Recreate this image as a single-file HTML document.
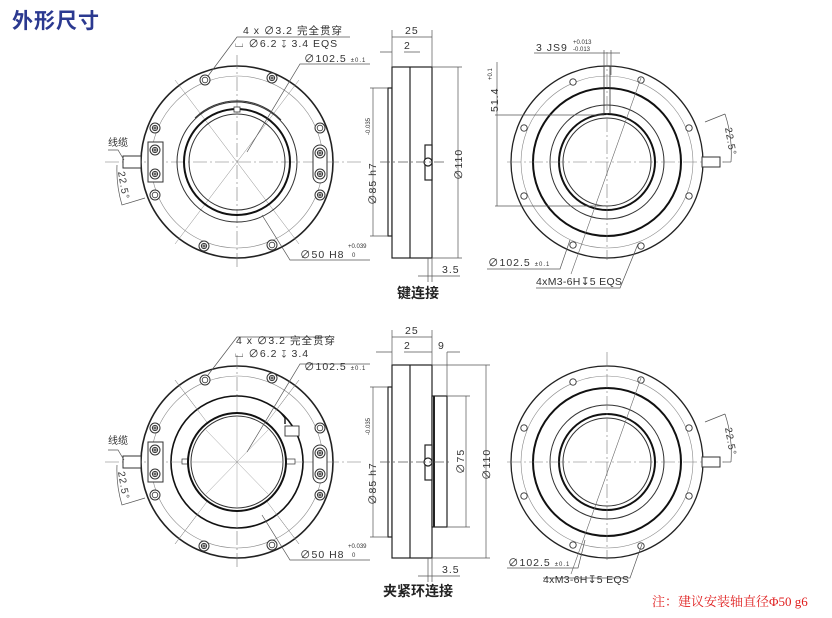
<!DOCTYPE html>
<html><head><meta charset="utf-8"><style>
html,body{margin:0;padding:0;background:#fff;width:832px;height:618px;overflow:hidden}
svg{display:block}
text{font-family:"Liberation Sans","Noto Sans CJK SC",sans-serif;fill:#333}
.t{font-size:10.5px;letter-spacing:1px}
.s{font-size:6px}
</style></head><body>
<svg width="832" height="618" viewBox="0 0 832 618" xmlns="http://www.w3.org/2000/svg">
<defs>
<g id="screw"><circle r="5" fill="#fff" stroke="#333" stroke-width="1"/><circle r="2.6" fill="none" stroke="#333" stroke-width="1"/><path d="M-1.8 0H1.8M0 -1.8V1.8" stroke="#333" stroke-width="1"/></g>
<g id="hole"><circle r="5" fill="#fff" stroke="#333" stroke-width="1"/><circle r="2.8" fill="none" stroke="#333" stroke-width="0.8"/></g>
<g id="sh"><circle r="3.2" fill="#fff" stroke="#333" stroke-width="0.9"/></g>
<g id="frontL">
  <circle r="96" fill="none" stroke="#222" stroke-width="1.6"/>
  <circle r="86" fill="none" stroke="#888" stroke-width="0.6"/>
  <path d="M-132 0H125M0 -107V108" stroke="#777" stroke-width="0.6" stroke-dasharray="14 3 2 3"/>
  <path d="M-62 -82L62 82M-62 82L62 -82" stroke="#888" stroke-width="0.5"/>
  <use href="#hole" x="-32" y="-82"/><use href="#screw" x="35" y="-84"/>
  <use href="#screw" x="-82" y="-34"/><use href="#hole" x="83" y="-34"/>
  <use href="#hole" x="-82" y="33"/><use href="#screw" x="83" y="33"/>
  <use href="#screw" x="-33" y="84"/><use href="#hole" x="35" y="83"/>
  <rect x="-89" y="-20" width="15" height="40" fill="#fff" stroke="#333" stroke-width="1"/>
  <use href="#screw" x="-82" y="-12"/><use href="#screw" x="-82" y="12"/>
  <rect x="76" y="-17" width="14" height="38" rx="7" fill="#fff" stroke="#333" stroke-width="1"/>
  <use href="#screw" x="83" y="-9"/><use href="#screw" x="83" y="12"/>
  <rect x="-114" y="-6" width="18" height="12" fill="#fff" stroke="#333" stroke-width="1"/>
</g>
<g id="frontR">
  <circle r="96" fill="none" stroke="#222" stroke-width="1.3"/>
  <circle r="86" fill="none" stroke="#888" stroke-width="0.6"/>
  <circle r="74" fill="none" stroke="#111" stroke-width="2"/>
  <circle r="57" fill="none" stroke="#333" stroke-width="1"/>
  <circle r="48" fill="none" stroke="#111" stroke-width="2"/>
  <circle r="44" fill="none" stroke="#333" stroke-width="1"/>
  <path d="M-100 0H118M0 -110V98" stroke="#777" stroke-width="0.6" stroke-dasharray="14 3 2 3"/>
  <use href="#sh" x="-34" y="-80"/><use href="#sh" x="34" y="-82"/>
  <use href="#sh" x="-83" y="-34"/><use href="#sh" x="82" y="-34"/>
  <use href="#sh" x="-83" y="34"/><use href="#sh" x="82" y="34"/>
  <use href="#sh" x="-34" y="83"/><use href="#sh" x="34" y="84"/>
  <rect x="95" y="-5" width="18" height="10" fill="#fff" stroke="#333" stroke-width="1"/>
  <path d="M-36 112L34 -84" stroke="#666" stroke-width="0.6"/>
  <path d="M98 -40L118 -48M118 -48A125 125 0 0 1 124 0" fill="none" stroke="#555" stroke-width="0.7"/>
  <path d="M116 0H124" stroke="#555" stroke-width="0.7"/>
</g>
</defs>

<text x="12" y="28" style="font-size:21px;font-weight:bold;fill:#2b3990;letter-spacing:1px">外形尺寸</text>

<!-- TOP LEFT -->
<g transform="translate(237,162)">
  <use href="#frontL"/>
  <circle r="60" fill="none" stroke="#333" stroke-width="1"/>
  <path d="M-42 -44A60 60 0 0 1 44 -42" fill="none" stroke="#333" stroke-width="1"/>
  <circle r="53" fill="none" stroke="#111" stroke-width="2"/>
  <circle r="48" fill="none" stroke="#333" stroke-width="1"/>
  <rect x="-3" y="-55" width="6" height="5" fill="#fff" stroke="#333" stroke-width="0.8"/>
</g>
<g stroke="#555" stroke-width="0.7" fill="none">
  <path d="M350 37H237L208 76"/><path d="M370 64H300L247 152"/><path d="M370 260H290L262 215"/>
  <path d="M108 150H118L124 160"/>
  <path d="M117 165A120 120 0 0 0 122 205L145 198"/>
</g>
<text x="243" y="34" class="t">4 x ∅3.2 完全贯穿</text>
<text x="235" y="47" class="t">⌴ ∅6.2 ↧ 3.4 EQS</text>
<text x="304" y="62" class="t">∅102.5 <tspan class="s">±0.1</tspan></text>
<text x="300" y="258" class="t">∅50 H8</text>
<text x="348" y="248" class="s">+0.039</text><text x="352" y="257" class="s">0</text>
<text x="108" y="146" style="font-size:10px">线缆</text>
<text transform="translate(118,172) rotate(80)" class="t" style="font-size:10px">22.5°</text>

<g stroke="#222" fill="#fff" stroke-width="1.2">
  <rect x="388" y="88" width="4" height="148"/>
  <rect x="392" y="67" width="40" height="191"/>
  <path d="M410 67V258"/>
  <rect x="425" y="145" width="7" height="35"/>
  <circle cx="428" cy="162" r="4"/>
</g>
<g stroke="#555" stroke-width="0.7" fill="none">
  <path d="M380 162H445" stroke-dasharray="10 3 2 3"/>
  <path d="M392 30V67M432 30V67M392 37H432M380 52H392M404 52H420"/>
  <path d="M388 88H370M388 236H370M373 88V236"/>
  <path d="M432 67H462M432 258H462M458 67V258"/>
  <path d="M428 258V282M432 258V282M418 276H460"/>
</g>
<text x="405" y="34" class="t">25</text><text x="404" y="49" class="t">2</text>
<text transform="translate(376,205) rotate(-90)" class="t">∅85 h7</text>
<text transform="translate(370,135) rotate(-90)" class="s">-0.035</text>
<text transform="translate(462,180) rotate(-90)" class="t">∅110</text>
<text x="442" y="273" class="t">3.5</text>
<text x="418" y="298" text-anchor="middle" style="font-size:14px;font-weight:bold;fill:#222">键连接</text>

<!-- TOP RIGHT -->
<g transform="translate(607,162)">
  <use href="#frontR"/>
  <path d="M-3 -96V-48M3 -96V-48" stroke="#333" stroke-width="0.8"/>
</g>
<g stroke="#555" stroke-width="0.7" fill="none">
  <path d="M534 53H620M604 50V75M611 50V75"/>
  <path d="M497 62V206M495 115H604M495 206H604"/>
  <path d="M487 269H560L570 240"/>
  <path d="M536 288H620L638 244"/>
</g>
<text x="536" y="51" class="t">3 JS9</text>
<text x="573" y="44" class="s">+0.013</text><text x="573" y="51" class="s">-0.013</text>
<text transform="translate(498,112) rotate(-90)" class="t">51.4</text>
<text transform="translate(492,80) rotate(-90)" class="s">+0.1</text>
<text x="488" y="266" class="t">∅102.5 <tspan class="s">±0.1</tspan></text>
<text x="536" y="285" class="t" style="letter-spacing:0.3px">4xM3-6H↧5 EQS</text>
<text transform="translate(725,128) rotate(80)" class="t" style="font-size:10px">22.5°</text>

<!-- BOTTOM LEFT -->
<g transform="translate(237,462)">
  <use href="#frontL"/>
  <circle r="66" fill="#fff" stroke="#111" stroke-width="1.6"/>
  <path d="M-62 -82L62 82M-62 82L62 -82M0 -66V66M-66 0H66" stroke="#888" stroke-width="0.5"/>
  <path d="M44 -49L48 -44V-38" fill="none" stroke="#111" stroke-width="1.4"/>
  <rect x="48" y="-36" width="14" height="10" fill="#fff" stroke="#333" stroke-width="0.9"/>
  <rect x="48" y="-3" width="10" height="5" fill="#fff" stroke="#333" stroke-width="0.7"/>
  <rect x="-55" y="-3" width="8" height="5" fill="#fff" stroke="#333" stroke-width="0.7"/>
  <circle r="49" fill="#fff" stroke="#111" stroke-width="2"/>
  <circle r="46" fill="none" stroke="#333" stroke-width="1"/>
  <path d="M-46 0H46M0 -46V46M-32 -33L32 33M-32 33L32 -33" stroke="#999" stroke-width="0.5"/>
</g>
<g stroke="#555" stroke-width="0.7" fill="none">
  <path d="M330 337H237L208 375"/><path d="M370 364H300L247 452"/><path d="M370 560H290L262 515"/>
  <path d="M108 450H118L124 460"/>
  <path d="M117 465A120 120 0 0 0 122 505L145 498"/>
</g>
<text x="236" y="344" class="t">4 x ∅3.2 完全贯穿</text>
<text x="235" y="357" class="t">⌴ ∅6.2 ↧ 3.4</text>
<text x="304" y="370" class="t">∅102.5 <tspan class="s">±0.1</tspan></text>
<text x="300" y="558" class="t">∅50 H8</text>
<text x="348" y="548" class="s">+0.039</text><text x="352" y="557" class="s">0</text>
<text x="108" y="444" style="font-size:10px">线缆</text>
<text transform="translate(118,472) rotate(80)" class="t" style="font-size:10px">22.5°</text>

<g stroke="#222" fill="#fff" stroke-width="1.2">
  <rect x="388" y="387" width="4" height="150"/>
  <rect x="392" y="365" width="40" height="193"/>
  <path d="M410 365V558"/>
  <rect x="432" y="396" width="15" height="131"/>
  <path d="M434 396V527" stroke-width="2"/>
  <rect x="425" y="445" width="7" height="35"/>
  <circle cx="428" cy="462" r="4"/>
</g>
<g stroke="#555" stroke-width="0.7" fill="none">
  <path d="M380 462H452" stroke-dasharray="10 3 2 3"/>
  <path d="M392 330V365M432 330V365M392 337H432M376 352H392M404 352H420M420 352H432M447 352V396M447 352H460"/>
  <path d="M388 387H370M388 537H370M373 387V537"/>
  <path d="M447 396H470M447 527H470M466 396V527"/>
  <path d="M432 365H490M432 558H490M486 365V558"/>
  <path d="M428 558V582M432 558V582M418 576H460"/>
</g>
<text x="405" y="334" class="t">25</text><text x="404" y="349" class="t">2</text><text x="438" y="349" class="t">9</text>
<text transform="translate(376,505) rotate(-90)" class="t">∅85 h7</text>
<text transform="translate(370,435) rotate(-90)" class="s">-0.035</text>
<text transform="translate(464,474) rotate(-90)" class="t">∅75</text>
<text transform="translate(490,480) rotate(-90)" class="t">∅110</text>
<text x="442" y="573" class="t">3.5</text>
<text x="418" y="596" text-anchor="middle" style="font-size:14px;font-weight:bold;fill:#222">夹紧环连接</text>

<!-- BOTTOM RIGHT -->
<g transform="translate(607,462)"><use href="#frontR"/></g>
<g stroke="#555" stroke-width="0.7" fill="none">
  <path d="M507 568H578L585 540"/>
  <path d="M543 578H630L642 544"/>
</g>
<text x="508" y="566" class="t">∅102.5 <tspan class="s">±0.1</tspan></text>
<text x="543" y="583" class="t" style="letter-spacing:0.3px">4xM3-6H↧5 EQS</text>
<text transform="translate(725,428) rotate(80)" class="t" style="font-size:10px">22.5°</text>

<text x="652" y="606" style="font-family:'Liberation Serif','Noto Serif CJK SC',serif;font-size:13px;fill:#e02020">注：建议安装轴直径Φ50  g6</text>
</svg>
</body></html>
